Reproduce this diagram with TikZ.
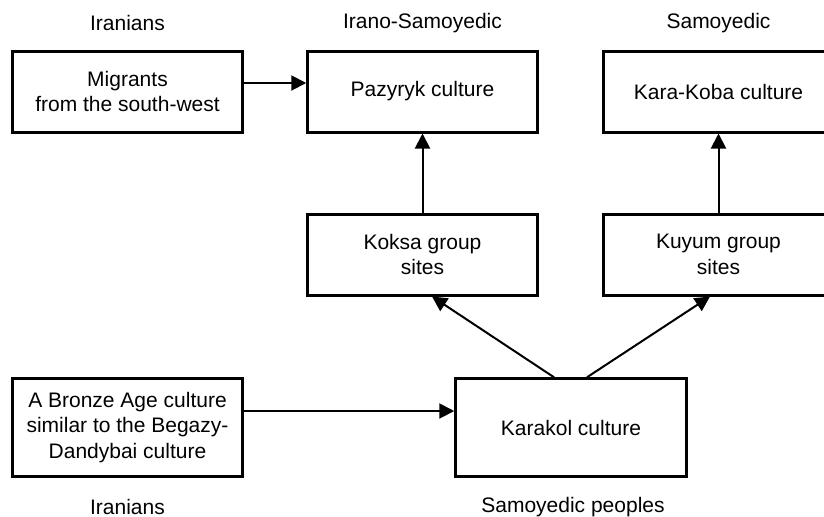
\documentclass[tikz,border=0pt]{standalone}
\usepackage{fontspec}
\setmainfont{Liberation Sans}
\usetikzlibrary{arrows.meta}

\begin{document}
\begin{tikzpicture}[x=0.5pt, y=-0.5pt, >={Triangle[length=7.5pt, width=7.5pt]},
    every node/.style={font=\fontsize{10.5}{12.75}\selectfont, align=center},
    culture/.style={draw, line width=1.5pt, minimum width=114.75pt, minimum height=40.5pt, inner sep=2pt},
    link/.style={->, line width=1pt}]

% Page frame (the right-hand boxes run off the edge)
\clip (0,0) rectangle (824,516);

% Column centres
\def\xL{127.5}
\def\xM{422.5}
\def\xR{718.5}

% --- Top row ---
\node[culture] (mig) at (\xL, 91.5) {Migrants\\from the south-west};
\node[culture] (paz) at (\xM, 91.5) {Pazyryk culture};
\node[culture] (kkb) at (\xR, 91.5) {Kara-Koba culture};

% --- Middle row ---
\node[culture] (kok) at (\xM, 254.5) {Koksa group\\sites};
\node[culture] (kuy) at (\xR, 254.5) {Kuyum group\\sites};

% --- Bottom row ---
\node[culture, minimum height=48.75pt] (bro) at (\xL, 427.5) {A Bronze Age culture\\similar to the Begazy-\\Dandybai culture};
\node[culture, minimum height=48.75pt, minimum width=115.25pt] (kar) at (571, 427.5) {Karakol culture};

% --- Peoples ---
\foreach \x/\y/\txt/\nm in {\xL/23/Iranians/pA, \xM/23/Irano-Samoyedic/pB, \xR/23/Samoyedic/pC,
                           \xL/507/Iranians/pD, 573/507/Samoyedic peoples/pE} {
    \node (\nm) at (\x, \y) {\txt};
}

% --- Links ---
\draw[link] ([yshift=4.25pt]mig.east) -- ([yshift=4.25pt]paz.west);
\draw[link] ([yshift=8.25pt]bro.east) -- ([yshift=8.25pt]kar.west);
\draw[link] (kok.north) -- (paz.south);
\draw[link] (kuy.north) -- (kkb.south);
\draw[link] ([xshift=-8.5pt]kar.north) -- ([xshift=4.75pt]kok.south);
\draw[link] ([xshift=8pt]kar.north) -- ([xshift=-4.25pt]kuy.south);

\end{tikzpicture}
\end{document}
